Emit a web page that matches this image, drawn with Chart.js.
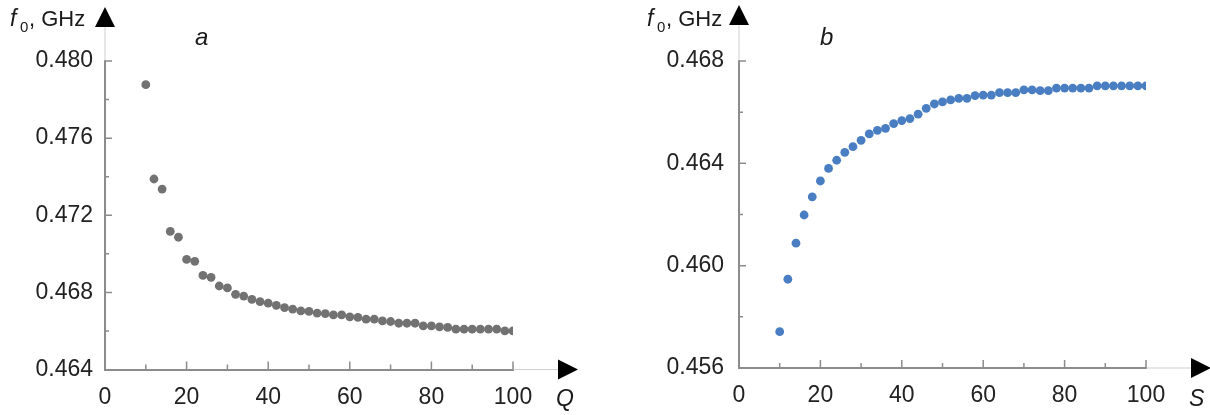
<!DOCTYPE html>
<html>
<head>
<meta charset="utf-8">
<script src="https://cdn.jsdelivr.net/npm/chart.js@4.4.1/dist/chart.umd.min.js"></script>
<style>
  body { margin: 0; background: #fff; }
  .wrap { position: relative; width: 1210px; height: 415px; }
  canvas { position: absolute; top: 0; }
  #chartQ { left: 0; }
  #chartS { left: 605px; }
</style>
</head>
<body>
<div class="wrap">
  <canvas id="chartQ" width="605" height="415"></canvas>
  <canvas id="chartS" width="605" height="415"></canvas>
</div>
<script>
// x values shared by both panels (Q for a, S for b)
const xValues = [10, 12, 14, 16, 18, 20, 22, 24, 26, 28, 30, 32, 34, 36, 38, 40,
                 42, 44, 46, 48, 50, 52, 54, 56, 58, 60, 62, 64, 66, 68, 70, 72,
                 74, 76, 78, 80, 82, 84, 86, 88, 90, 92, 94, 96, 98, 100];

// panel a: f0 (GHz) vs Q
const freqQ = [0.47877, 0.47388, 0.47336, 0.47116, 0.47086, 0.46971, 0.46961, 0.46888,
               0.46878, 0.46833, 0.46823, 0.46790, 0.46781, 0.46764, 0.46752, 0.46744,
               0.46733, 0.46721, 0.46713, 0.46704, 0.46701, 0.46692, 0.46690, 0.46683,
               0.46683, 0.46673, 0.46670, 0.46661, 0.46661, 0.46652, 0.46649, 0.46640,
               0.46640, 0.46640, 0.46626, 0.46626, 0.46621, 0.46618, 0.46609, 0.46609,
               0.46609, 0.46609, 0.46609, 0.46609, 0.46600, 0.46600];

// panel b: f0 (GHz) vs S
const freqS = [0.45742, 0.45947, 0.46088, 0.46198, 0.46269, 0.46331, 0.46380, 0.46412,
               0.46443, 0.46465, 0.46490, 0.46515, 0.46529, 0.46537, 0.46555, 0.46567,
               0.46575, 0.46592, 0.46615, 0.46632, 0.46640, 0.46648, 0.46654, 0.46654,
               0.46665, 0.46667, 0.46667, 0.46676, 0.46676, 0.46676, 0.46687, 0.46687,
               0.46684, 0.46684, 0.46694, 0.46694, 0.46694, 0.46694, 0.46694, 0.46703,
               0.46703, 0.46703, 0.46703, 0.46703, 0.46703, 0.46703];

// labelled (major) ticks
const xMajorTicks = [0, 20, 40, 60, 80, 100];
const yMajorTicksQ = [0.464, 0.468, 0.472, 0.476, 0.480];
const yMajorTicksS = [0.456, 0.460, 0.464, 0.468];

const FONT = "'Liberation Sans', Arial, sans-serif";
const AXIS_GREY = '#8c8c8c';

function isIn(list, v) {
    return list.some(t => Math.abs(t - v) < 1e-7);
}

// inward ticks, light axis extensions, arrows and text labels
const axisDecor = {
    id: 'axisDecor',
    afterDraw(chart, args, opts) {
        const ctx = chart.ctx;
        const area = chart.chartArea;
        const xs = chart.scales.x;
        const ys = chart.scales.y;
        ctx.save();

        ctx.strokeStyle = '#cfcfcf';
        ctx.lineWidth = 1;
        ctx.beginPath();
        ctx.moveTo(area.left, area.top);
        ctx.lineTo(area.left, opts.yArrowBase);
        ctx.moveTo(area.right, area.bottom);
        ctx.lineTo(area.right + 45, area.bottom);
        ctx.stroke();

        ctx.strokeStyle = AXIS_GREY;
        ctx.lineWidth = 1.5;
        ctx.beginPath();
        xs.ticks.forEach(t => {
            if (t.value === 0) return;
            const px = xs.getPixelForValue(t.value);
            const len = isIn(xMajorTicks, t.value) ? 8 : 5;
            ctx.moveTo(px, area.bottom);
            ctx.lineTo(px, area.bottom - len);
        });
        ys.ticks.forEach(t => {
            const py = ys.getPixelForValue(t.value);
            if (Math.abs(py - area.bottom) < 1) return;
            const len = isIn(opts.yMajor, t.value) ? 7 : 4;
            ctx.moveTo(area.left, py);
            ctx.lineTo(area.left + len, py);
        });
        ctx.stroke();

        // arrow heads
        ctx.fillStyle = '#000';
        ctx.beginPath();
        ctx.moveTo(area.left - 10, opts.yArrowBase);
        ctx.lineTo(area.left + 10, opts.yArrowBase);
        ctx.lineTo(area.left, opts.yArrowBase - 20);
        ctx.closePath();
        ctx.fill();
        const xb = area.right + 45;
        ctx.beginPath();
        ctx.moveTo(xb, area.bottom - 10);
        ctx.lineTo(xb, area.bottom + 10);
        ctx.lineTo(xb + 20, area.bottom);
        ctx.closePath();
        ctx.fill();

        // axis title f0, GHz
        ctx.fillStyle = '#1a1a1a';
        ctx.textBaseline = 'alphabetic';
        ctx.textAlign = 'left';
        ctx.font = 'italic 23px ' + FONT;
        ctx.fillText('f', opts.titleX, 26);
        ctx.font = '15px ' + FONT;
        ctx.fillText('0', opts.titleX + 10, 32);
        ctx.font = '22px ' + FONT;
        ctx.fillText(', GHz', opts.titleX + 19, 26);

        // panel letter and x axis name
        ctx.font = 'italic 24px ' + FONT;
        ctx.fillText(opts.letter, opts.letterX, 45);
        ctx.font = 'italic 23px ' + FONT;
        ctx.fillText(opts.axisName, xb - 2, 406);
        ctx.restore();
    }
};

function makePanel(id, values, color, yMin, yMax, yMajor, sizes, decor) {
    const ctx = document.getElementById(id).getContext('2d');
    return new Chart(ctx, {
        type: 'scatter',
        data: {
            datasets: [{
                data: xValues.map((x, i) => ({ x: x, y: values[i] })),
                backgroundColor: color,
                borderWidth: 0,
                pointRadius: 4.4
            }]
        },
        options: {
            responsive: false,
            animation: false,
            devicePixelRatio: 1,
            layout: { padding: { left: 0, top: 61, right: sizes.right, bottom: 0 } },
            plugins: {
                legend: { display: false },
                tooltip: { enabled: false },
                axisDecor: Object.assign({ yMajor: yMajor }, decor)
            },
            scales: {
                x: {
                    type: 'linear',
                    min: 0,
                    max: 100,
                    afterFit: s => { s.height = sizes.xHeight; },
                    border: { color: AXIS_GREY, width: 2 },
                    grid: { drawOnChartArea: false, drawTicks: false },
                    ticks: {
                        stepSize: 10,
                        autoSkip: false,
                        maxRotation: 0,
                        padding: 14,
                        color: '#222',
                        font: { family: FONT, size: 23 },
                        callback: v => isIn(xMajorTicks, v) ? String(v) : ''
                    }
                },
                y: {
                    type: 'linear',
                    min: yMin,
                    max: yMax,
                    afterFit: s => { s.width = sizes.yWidth; },
                    border: { color: AXIS_GREY, width: 2 },
                    grid: { drawOnChartArea: false, drawTicks: false },
                    ticks: {
                        stepSize: 0.002,
                        autoSkip: false,
                        padding: sizes.yPad,
                        color: '#222',
                        font: { family: FONT, size: 23 },
                        callback: v => isIn(yMajor, v) ? v.toFixed(3) : ''
                    }
                }
            }
        },
        plugins: [axisDecor]
    });
}

makePanel('chartQ', freqQ, '#727272', 0.464, 0.480, yMajorTicksQ,
    { right: 92, xHeight: 45.5, yWidth: 105, yPad: 12 },
    { yArrowBase: 27, titleX: 10, letter: 'a', letterX: 195, axisName: 'Q' });

makePanel('chartS', freqS, '#4a7ec2', 0.456, 0.468, yMajorTicksS,
    { right: 64, xHeight: 47, yWidth: 134, yPad: 15 },
    { yArrowBase: 25, titleX: 42, letter: 'b', letterX: 215, axisName: 'S' });
</script>
</body>
</html>
